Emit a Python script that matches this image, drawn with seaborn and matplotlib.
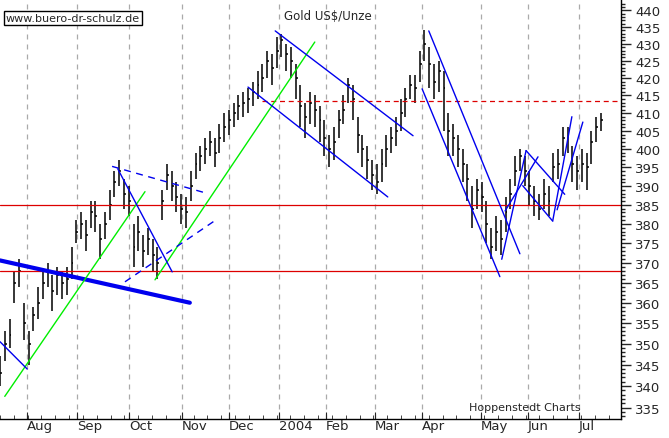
import numpy as np
import matplotlib
matplotlib.use("Agg")
import matplotlib.pyplot as plt
import matplotlib.ticker as mticker
import seaborn as sns

# close per bar (about every two trading days, Jul 2003 - Jul 2004)
close = [343, 350, 352, 365, 368, 355, 350, 357, 360, 365,
         368, 363, 367, 365, 366, 370, 378, 380, 377, 383,
         382, 376, 380, 385, 391, 394, 388, 386, 374, 378,
         373, 376, 372, 370, 386, 393, 390, 387, 384, 383,
         390, 396, 398, 400, 402, 399, 403, 406, 408, 410,
         412, 413, 414, 416, 418, 420, 425, 423, 428, 431,
         427, 425, 420, 412, 409, 413, 411, 408, 403, 400,
         402, 408, 411, 418, 414, 404, 400, 397, 393, 391,
         396, 400, 403, 405, 410, 414, 418, 417, 424, 430,
         424, 419, 422, 417, 405, 403, 400, 396, 392, 384,
         389, 387, 380, 374, 378, 376, 383, 388, 394, 398,
         394, 390, 386, 384, 388, 386, 395, 396, 403, 404,
         396, 394, 396, 395, 402, 406, 408]
high = [347, 353, 356, 368, 371, 360, 353, 359, 364, 368,
        370, 367, 369, 368, 369, 374, 381, 383, 381, 386,
        386, 380, 383, 389, 394, 397, 392, 390, 380, 382,
        377, 379, 376, 374, 389, 396, 394, 391, 388, 387,
        394, 399, 401, 403, 405, 403, 407, 410, 411, 413,
        415, 416, 417, 419, 422, 424, 428, 427, 432, 433,
        430, 429, 424, 418, 413, 416, 415, 412, 408, 404,
        406, 411, 415, 420, 418, 409, 404, 401, 397, 396,
        400, 404, 406, 409, 414, 417, 421, 421, 428, 434,
        429, 424, 425, 422, 410, 407, 404, 400, 396, 390,
        392, 391, 386, 379, 382, 381, 387, 392, 398, 400,
        398, 394, 390, 388, 392, 390, 399, 400, 406, 406,
        401, 398, 400, 399, 405, 409, 410]
low = [340, 346, 349, 360, 364, 351, 345, 353, 356, 361,
       364, 358, 362, 361, 362, 366, 375, 376, 373, 379,
       378, 371, 376, 381, 387, 390, 384, 382, 369, 373,
       369, 372, 368, 366, 381, 389, 386, 383, 380, 379,
       386, 392, 394, 396, 398, 395, 399, 402, 404, 406,
       408, 409, 410, 412, 414, 416, 420, 418, 423, 426,
       422, 420, 414, 406, 403, 407, 406, 402, 398, 395,
       397, 403, 407, 413, 408, 399, 395, 392, 389, 388,
       391, 395, 399, 401, 405, 409, 414, 413, 419, 425,
       417, 414, 416, 405, 398, 398, 395, 391, 386, 379,
       384, 383, 375, 371, 373, 372, 378, 384, 390, 394,
       390, 385, 382, 381, 384, 382, 391, 392, 398, 399,
       391, 389, 391, 389, 396, 402, 405]

# trend lines drawn on the chart: (x0, price0, x1, price1) in bar units
thick_line = [(0.0, 370.6, 39.8, 360.0)]
green_lines = [(1.0, 337.6, 30.4, 388.5), (32.5, 365.7, 66.0, 430.5)]
blue_lines = [(0.0, 350.5, 5.7, 344.0), (24.7, 394.6, 36.1, 367.7),
              (57.7, 433.8, 86.6, 403.7), (52.0, 417.4, 81.3, 387.1),
              (89.9, 433.8, 109.0, 372.3), (88.5, 416.9, 104.8, 366.5),
              (105.2, 370.9, 110.3, 399.6), (110.3, 399.6, 118.4, 387.8),
              (109.6, 390.1, 115.9, 380.7), (105.9, 383.4, 112.8, 397.9),
              (115.9, 380.9, 119.9, 409.0), (116.8, 383.7, 122.2, 407.5)]
dashed_blue = [(23.5, 395.3, 43.0, 388.2), (26.2, 365.2, 45.1, 380.9)]
support_levels = [385, 368]
resistance = 413.5

month_labels = ["Aug", "Sep", "Oct", "Nov", "Dec", "2004", "Feb", "Mar",
                "Apr", "May", "Jun", "Jul"]
month_pos = [5.7, 16.1, 27.0, 38.2, 48.0, 58.5, 68.3, 78.6,
             88.5, 100.8, 110.7, 121.4]

sns.set_style("white")
plt.rcParams["font.family"] = ["DejaVu Sans"]

fig = plt.figure(figsize=(6.69, 4.39), dpi=100)
ax = fig.add_axes([0, 19 / 439, 621 / 669, 420 / 439])

x = np.arange(len(close))
ax.vlines(x, low, high, color="black", lw=1.1)
ax.hlines(close, x, x + 0.4, color="black", lw=1.1)

for m in month_pos:
    ax.axvline(m, color="#aaaaaa", ls=(0, (4, 4)), lw=0.9, zorder=0)
for lv in support_levels:
    ax.axhline(lv, color="#dd0000", lw=0.9)
ax.hlines(resistance, 54.9, 131, color="#dd0000", lw=0.9, ls=(0, (4, 3)))

for x0, y0, x1, y1 in thick_line:
    ax.plot([x0, x1], [y0, y1], color="#0000ee", lw=3)
for x0, y0, x1, y1 in green_lines:
    ax.plot([x0, x1], [y0, y1], color="#00ee00", lw=1)
for x0, y0, x1, y1 in blue_lines:
    ax.plot([x0, x1], [y0, y1], color="#0000ee", lw=1)
for x0, y0, x1, y1 in dashed_blue:
    ax.plot([x0, x1], [y0, y1], color="#0000ee", lw=1, ls=(0, (5, 4)))

ax.set_yscale("log")
ax.set_ylim(332.4, 443.4)
ax.set_xlim(0, 130.2)
ax.yaxis.tick_right()
ax.yaxis.set_major_locator(mticker.FixedLocator(np.arange(335, 441, 5)))
ax.yaxis.set_minor_locator(mticker.FixedLocator(np.arange(333, 443, 1)))
ax.yaxis.set_major_formatter(mticker.FormatStrFormatter("%d"))
ax.yaxis.set_minor_formatter(mticker.NullFormatter())
ax.tick_params(axis="y", which="major", length=7, width=1, labelsize=9.5,
               pad=3, right=True, direction="out")
ax.tick_params(axis="y", which="minor", length=3, width=1, right=True)

ax.set_xticks(month_pos)
ax.set_xticklabels(month_labels)
ax.set_xticks(np.arange(0, 130, 2.9), minor=True)
ax.tick_params(axis="x", which="major", length=5, labelsize=9.5, pad=0,
               direction="in", bottom=True)
ax.tick_params(axis="x", which="minor", length=3, direction="in", bottom=True)
for t in ax.xaxis.get_major_ticks():
    t.label1.set_horizontalalignment("left")

for side in ["top", "left"]:
    ax.spines[side].set_visible(False)
for side in ["right", "bottom"]:
    ax.spines[side].set_color("black")
    ax.spines[side].set_linewidth(1)

fig.text(6 / 669, 1 - 19 / 439, "www.buero-dr-schulz.de", fontsize=8,
         va="center", bbox=dict(facecolor="white", edgecolor="black", pad=1.5, lw=1))
fig.text(328 / 669, 1 - 16 / 439, "Gold US$/Unze", fontsize=8.5, ha="center", va="center")
fig.text(525 / 669, 1 - 408 / 439, "Hoppenstedt Charts", fontsize=8, ha="center", va="center")

fig.savefig("out.png", dpi=100)
